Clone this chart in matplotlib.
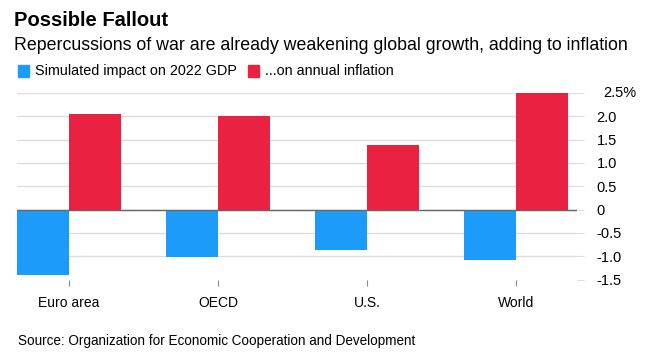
import matplotlib.pyplot as plt
import numpy as np

plt.rcParams['font.family'] = ['Liberation Sans', 'DejaVu Sans']

# data
regions = ['Euro area', 'OECD', 'U.S.', 'World']
gdp_impact = [-1.40, -1.01, -0.87, -1.08]
inflation_impact = [2.05, 2.00, 1.38, 2.50]
yticks = [-1.5, -1.0, -0.5, 0, 0.5, 1.0, 1.5, 2.0, 2.5]
ytick_labels = ['-1.5', '-1.0', '-0.5', '0', '0.5', '1.0', '1.5', '2.0', '']

blue = '#1d9bfa'
red = '#eb2141'

fig = plt.figure(figsize=(6.47, 3.64), dpi=100)
ax = fig.add_axes([17/647, 1-279.6/364, 560/647, (279.6-93)/364])

x = np.arange(len(regions))
w = 0.35
ax.bar(x - w/2, gdp_impact, width=w, color=blue, zorder=3)
ax.bar(x + w/2, inflation_impact, width=w, color=red, zorder=3)

# gridlines (the -1.5 one is not drawn across)
for v in yticks[1:]:
    ax.axhline(v, color='#dddddd', lw=1, zorder=1)
ax.axhline(0, color='#666666', lw=1, zorder=4)

ax.set_xlim(-0.349, 3.41)
ax.set_ylim(-1.5, 2.5)
for s in ax.spines.values():
    s.set_visible(False)

ax.set_xticks(x)
ax.set_xticklabels(regions, fontsize=10)
ax.tick_params(axis='x', length=4, color='#888888', pad=8)

ax.yaxis.tick_right()
ax.set_yticks(yticks)
ax.set_yticklabels(ytick_labels, fontsize=10.5, ha='left')
ax.tick_params(axis='y', length=5, color='#dddddd', pad=9)
ax.text(603/647, 1-93/364, '2.5%', transform=fig.transFigure, fontsize=10.5,
        va='center', ha='left')

# header
fig.text(14/647, 1-21/364, 'Possible Fallout', fontsize=14.5, fontweight='bold', va='center')
fig.text(14/647, 1-46/364, 'Repercussions of war are already weakening global growth, adding to inflation',
         fontsize=12.75, va='center')
fig.patches.append(plt.Rectangle((18/647, 1-77/364), 11/647, 12/364, color=blue,
                                 transform=fig.transFigure, figure=fig))
fig.text(35/647, 1-71/364, 'Simulated impact on 2022 GDP', fontsize=10.4, va='center')
fig.patches.append(plt.Rectangle((248/647, 1-77/364), 11/647, 12/364, color=red,
                                 transform=fig.transFigure, figure=fig))
fig.text(265/647, 1-71/364, '...on annual inflation', fontsize=10.4, va='center')

fig.text(18/647, 1-341/364, 'Source: Organization for Economic Cooperation and Development',
         fontsize=9.75, va='center')

fig.savefig('out.png', dpi=100)
